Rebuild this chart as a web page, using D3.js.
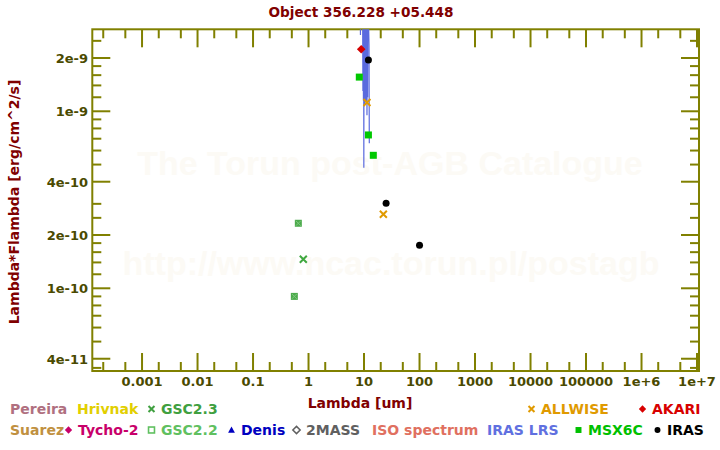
<!DOCTYPE html>
<html><head><meta charset="utf-8">
<script src="https://cdn.jsdelivr.net/npm/d3@7"></script>
<style>body{margin:0;background:#fff}svg{display:block}</style>
</head><body><svg id="c" width="720" height="450"></svg>
<script>
// ---------- data ----------
const title = "Object 356.228 +05.448";
const xTitle = "Lambda [um]";
const yTitle = "Lambda*Flambda [erg/cm^2/s]";
const xDomain = [1.27e-4, 1.086e7];
const yDomain = [3.41e-11, 2.905e-9];
const xMajor = [1e-3, 1e-2, 1e-1, 1, 10, 100, 1e3, 1e4, 1e5, 1e6, 1e7];
const xTickLabels = ["0.001","0.01","0.1","1","10","100","1000","10000","100000","1e+6","1e+7"];
const xMinor = [2e-4,5e-4,2e-3,5e-3,2e-2,5e-2,0.2,0.5,2,5,20,50,200,500,2e3,5e3,2e4,5e4,2e5,5e5,2e6,5e6];
const yMajor = [4e-11, 1e-10, 2e-10, 4e-10, 1e-9, 2e-9];
const yTickLabels = ["4e-11","1e-10","2e-10","4e-10","1e-9","2e-9"];
const yMinor = [3.55e-11,5e-11,6e-11,7e-11,8e-11,9e-11,1.2e-10,1.4e-10,1.6e-10,1.8e-10,2.5e-10,3e-10,
                5e-10,6e-10,7e-10,8e-10,9e-10,1.2e-9,1.4e-9,1.6e-9,1.8e-9,2.5e-9];

const lrsLambda = [8.55,8.62,8.70,9.0,9.4,9.55,9.65,9.75,9.85,9.92,10.0,10.1,10.2,10.3,10.4,10.5,10.6,10.7,10.8,10.9,11.0,11.1,11.2,11.3,11.35,11.5,11.6,11.7,12.3,12.45];
const lrsFlux   = [5e-9,2.7e-9,5e-9,6e-9,5e-9,1.3e-9,5e-9,1.15e-9,5e-9,4.8e-10,5e-9,1.2e-9,5e-9,1.1e-9,5e-9,1.25e-9,5e-9,1.15e-9,5e-9,1.3e-9,5e-9,1.12e-9,5e-9,9.5e-10,1.32e-9,5e-9,1.2e-9,5e-9,2.37e-9,6.6e-10];

const gsc22Lambda = [0.555, 0.655];
const gsc22Flux   = [9.0e-11, 2.33e-10];
const gsc23Lambda = [0.805];
const gsc23Flux   = [1.46e-10];
const msxLambda = [8.22, 12.0, 14.7];
const msxFlux   = [1.56e-9, 7.35e-10, 5.64e-10];
const allwiseLambda = [11.3, 22.3];
const allwiseFlux   = [1.12e-9, 2.62e-10];
const akariLambda = [8.9];
const akariFlux   = [2.24e-9];
const irasLambda = [12, 25, 100];
const irasFlux   = [1.95e-9, 3.02e-10, 1.75e-10];

const legendNames  = ["Pereira","Hrivnak","GSC2.3","ALLWISE","AKARI","Suarez","Tycho-2","GSC2.2","Denis","2MASS","ISO spectrum","IRAS LRS","MSX6C","IRAS"];
const legendColors = ["#b07080","#e2cf00","#40a040","#e09a00","#d80000","#c09040","#c8006a","#60c060","#0000c0","#606060","#e07060","#6070e0","#00c000","#000000"];
const legendSymbols= ["","","x","x","diamond","","diamond","square-open","triangle","diamond-open","","","square","circle"];

// ---------- layout ----------
const L = 92.3, R = 699, T = 29.3, B = 371;
const legendRow = [0,0,0,0,0,1,1,1,1,1,1,1,1,1];
const legendX   = [10,77,161,541,652,10,78,161,241,306,372,487,588,667];
const rowY = [414, 435];

const svg = d3.select("#c");
const font = "'DejaVu Sans', Verdana, sans-serif";
const axisCol = "#808000", tickTextCol = "#4a4a00", titleCol = "#800000";

const x = d3.scaleLog().domain(xDomain).range([L, R]);
const y = d3.scaleLog().domain(yDomain).range([B, T]);

// watermark
svg.append("text").attr("x", 390).attr("y", 175).attr("text-anchor","middle")
  .attr("font-family","'Liberation Sans', Arial, sans-serif").attr("font-weight","bold").attr("font-size",34)
  .attr("fill","#fcfaf5").text("The Torun post-AGB Catalogue");
svg.append("text").attr("x", 391).attr("y", 275).attr("text-anchor","middle")
  .attr("font-family","'Liberation Sans', Arial, sans-serif").attr("font-weight","bold").attr("font-size",34)
  .attr("fill","#fcfaf5").text("http://www.ncac.torun.pl/postagb");

// title
svg.append("text").attr("x", 361).attr("y", 17).attr("text-anchor","middle")
  .attr("font-family",font).attr("font-weight","bold").attr("font-size",13.6).attr("fill",titleCol).text(title);

// clip
svg.append("clipPath").attr("id","clip").append("rect").attr("x",L).attr("y",T).attr("width",R-L).attr("height",B-T);

// ticks
const g = svg.append("g").attr("stroke", axisCol).attr("stroke-width", 2);
function xt(vals, len){
  vals.forEach(v=>{
    g.append("line").attr("x1",x(v)).attr("x2",x(v)).attr("y1",T).attr("y2",T+len);
    g.append("line").attr("x1",x(v)).attr("x2",x(v)).attr("y1",B).attr("y2",B-len);
  });
}
function yt(vals, len){
  vals.forEach(v=>{
    g.append("line").attr("y1",y(v)).attr("y2",y(v)).attr("x1",L).attr("x2",L+len);
    g.append("line").attr("y1",y(v)).attr("y2",y(v)).attr("x1",R).attr("x2",R-len);
  });
}
xt(xMajor,18); xt(xMinor,9); yt(yMajor,18); yt(yMinor,9);
g.append("rect").attr("x",L).attr("y",T).attr("width",R-L).attr("height",B-T).attr("fill","none");

// tick labels
xMajor.forEach((v,i)=>{
  svg.append("text").attr("x",x(v)).attr("y",386).attr("text-anchor","middle")
    .attr("font-family",font).attr("font-weight","bold").attr("font-size",13).attr("fill",tickTextCol).text(xTickLabels[i]);
});
yMajor.forEach((v,i)=>{
  svg.append("text").attr("x",88).attr("y",y(v)+5).attr("text-anchor","end")
    .attr("font-family",font).attr("font-weight","bold").attr("font-size",13).attr("fill",tickTextCol).text(yTickLabels[i]);
});

// axis titles
svg.append("text").attr("x",360).attr("y",408).attr("text-anchor","middle")
  .attr("font-family",font).attr("font-weight","bold").attr("font-size",14).attr("fill",titleCol).text(xTitle);
svg.append("text").attr("transform","translate(19,202) rotate(-90)").attr("text-anchor","middle")
  .attr("font-family",font).attr("font-weight","bold").attr("font-size",14).attr("fill",titleCol).text(yTitle);

// LRS spectrum
const lrs = lrsLambda.map((l,i)=>[l, lrsFlux[i]]);
svg.append("path").attr("clip-path","url(#clip)")
  .attr("d", d3.line().x(d=>x(d[0])).y(d=>y(d[1]))(lrs))
  .attr("fill","none").attr("stroke","#5a6ade").attr("stroke-width",1.2);

// symbol drawing
function sym(parent, type, cx, cy, col, s){
  s = s || 1;
  if(type==="x"){
    const h=3.5*s;
    parent.append("path").attr("d",`M${cx-h},${cy-h}L${cx+h},${cy+h}M${cx-h},${cy+h}L${cx+h},${cy-h}`)
      .attr("stroke",col).attr("stroke-width",2).attr("fill","none");
  } else if(type==="diamond"||type==="diamond-open"){
    const h=4.3*s;
    const p=parent.append("path").attr("d",`M${cx},${cy-h}L${cx+h},${cy}L${cx},${cy+h}L${cx-h},${cy}Z`);
    if(type==="diamond") p.attr("fill",col); else p.attr("fill","none").attr("stroke",col).attr("stroke-width",1.5);
  } else if(type==="square"||type==="square-open"){
    const h=3.5*s;
    const p=parent.append("rect").attr("x",cx-h).attr("y",cy-h).attr("width",2*h).attr("height",2*h);
    if(type==="square") p.attr("fill",col); else p.attr("fill","none").attr("stroke",col).attr("stroke-width",1.6);
  } else if(type==="triangle"){
    const h=4*s;
    parent.append("path").attr("d",`M${cx},${cy-h}L${cx+h},${cy+h*0.8}L${cx-h},${cy+h*0.8}Z`).attr("fill",col);
  } else if(type==="circle"){
    parent.append("circle").attr("cx",cx).attr("cy",cy).attr("r",3.5*s).attr("fill",col);
  }
}

const pts = svg.append("g").attr("clip-path","url(#clip)");
// GSC2.2: filled square with light cross pattern
gsc22Lambda.forEach((l,i)=>{
  const cx=x(l), cy=y(gsc22Flux[i]);
  pts.append("rect").attr("x",cx-3.5).attr("y",cy-3.5).attr("width",7).attr("height",7).attr("fill","#4caa4c");
  pts.append("path").attr("d",`M${cx-2.5},${cy-2.5}L${cx+2.5},${cy+2.5}M${cx-2.5},${cy+2.5}L${cx+2.5},${cy-2.5}`)
    .attr("stroke","#7cc87c").attr("stroke-width",1).attr("fill","none");
});
gsc23Lambda.forEach((l,i)=>sym(pts,"x",x(l),y(gsc23Flux[i]),"#40a840"));
msxLambda.forEach((l,i)=>sym(pts,"square",x(l),y(msxFlux[i]),"#00c800"));
allwiseLambda.forEach((l,i)=>sym(pts,"x",x(l),y(allwiseFlux[i]),"#e09a00"));
akariLambda.forEach((l,i)=>sym(pts,"diamond",x(l),y(akariFlux[i]),"#d40000"));
irasLambda.forEach((l,i)=>sym(pts,"circle",x(l),y(irasFlux[i]),"#000000"));

// legend
legendNames.forEach((n,i)=>{
  const yy = rowY[legendRow[i]];
  svg.append("text").attr("x",legendX[i]).attr("y",yy)
    .attr("font-family",font).attr("font-weight","bold").attr("font-size",14).attr("fill",legendColors[i]).text(n);
  if(legendSymbols[i]) sym(svg, legendSymbols[i], legendX[i]-9.5, yy-5, legendColors[i], 0.85);
});
</script></body></html>
